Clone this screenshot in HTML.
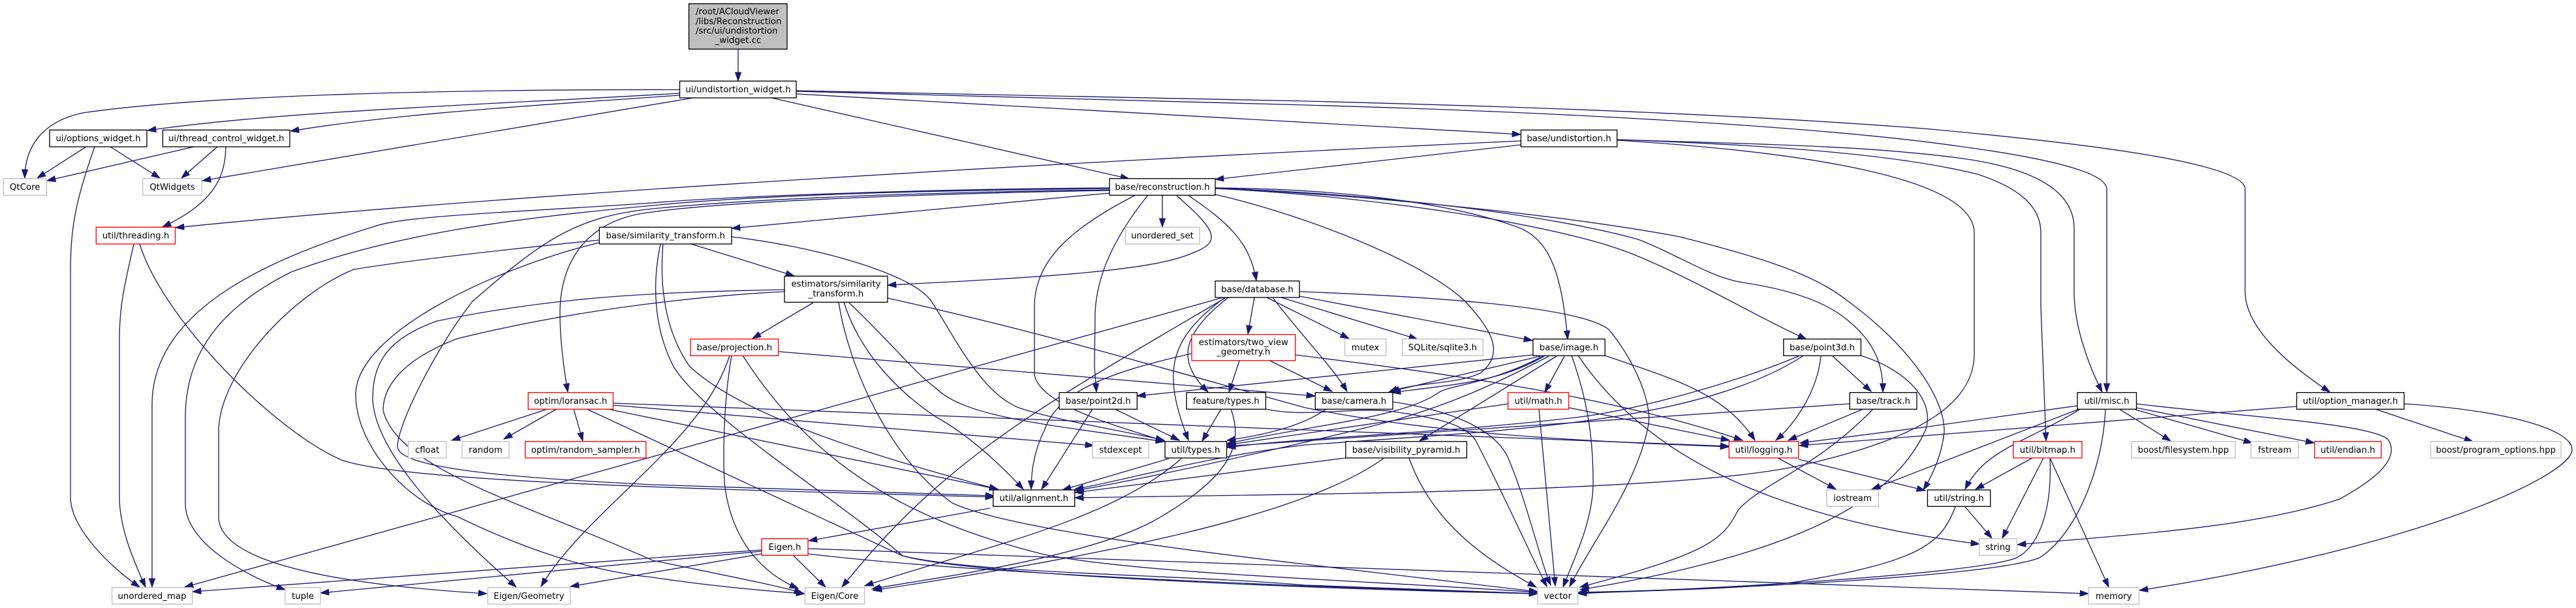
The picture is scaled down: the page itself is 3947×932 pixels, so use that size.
<!DOCTYPE html>
<html><head><meta charset="utf-8"><title>Include graph</title>
<style>
html,body{margin:0;padding:0;background:#fff;width:3947px;height:932px;overflow:hidden}
svg{display:block}
path{fill:none;stroke:#191970;stroke-width:1.33;marker-end:url(#a)}
marker path{fill:#191970;stroke:#191970;stroke-width:1;marker-end:none}
rect{fill:#fff;stroke:#000;stroke-width:1.33}
rect.g{stroke:#bfbfbf}
rect.r{stroke:#f00}
rect.c{fill:#bfbfbf}
text{font-family:"DejaVu Sans","Liberation Sans",sans-serif;font-size:13.33px;fill:#000;text-anchor:middle}
text.l{text-anchor:start}
</style></head><body>
<svg xmlns="http://www.w3.org/2000/svg" width="3947" height="932" viewBox="0 0 3947 932">
<defs><marker id="a" markerUnits="userSpaceOnUse" markerWidth="15" markerHeight="11" refX="13.3" refY="5" orient="auto"><path d="M0,0.4 L13.3,5 L0,9.6 Z"/></marker></defs>
<g>
<path d="M1131,75 L1131,124"/>
<path d="M1041,137.5 C700,137 320,145 127,173 C70,185 38,220 38,273"/>
<path d="M1041,143 C760,160 430,170 226,200"/>
<path d="M1041,146 C850,160 620,172 445,201"/>
<path d="M1062,150 L310,277"/>
<path d="M1182,150 L1730,274"/>
<path d="M1220,144 L2330,206"/>
<path d="M1220,140 L2000,161 C2400,172 2800,195 3000,224 C3120,240 3228,262 3228,290 L3228,601"/>
<path d="M1220,139 L2000,155 C2400,165 2700,178 2947,197 C3200,220 3440,250 3440,290 L3440,447 C3440,500 3500,555 3570,601"/>
<path d="M2330,216 C1700,245 800,295 269,349"/>
<path d="M2330,222 L1862,275"/>
<path d="M2478,214 C2650,220 2850,222 3000,242 C3100,255 3178,285 3178,350 L3178,447 C3178,500 3200,560 3221,601"/>
<path d="M2478,214 C2700,222 2900,235 3030,267 C3100,290 3127,320 3127,357 L3127,470 L3135,676"/>
<path d="M2478,215 C2750,232 3025,270 3025,357 L3025,542 C3025,610 2960,670 2752,715 C2560,755 2000,757 1647,763"/>
<path d="M132,225 L57,273"/>
<path d="M169,225 L245,273"/>
<path d="M145,225 C115,310 108,350 108,420 L108,762 C108,810 170,870 214,900"/>
<path d="M297,225 L72,277"/>
<path d="M333,225 L278,273"/>
<path d="M346,225 C345,270 330,310 249,348"/>
<path d="M205,374 C190,440 183,470 183,520 L183,762 C183,810 205,860 223,900"/>
<path d="M214,374 C250,490 420,660 523,705 C620,740 1100,750 1523,762"/>
<path d="M1700,288 C1400,290 1100,302 1000,311 C800,325 620,330 574,347 C400,400 233,480 233,620 L233,900"/>
<path d="M1700,289 C1400,292 1150,300 1000,315 C780,335 600,360 446,417 C340,470 284,540 284,640 L284,772 C284,830 370,880 437,904"/>
<path d="M1700,291 C1400,295 1150,305 1000,320 C880,332 830,370 724,462 C670,530 609,650 609,685 C612,720 800,733 1000,743 L1523,760"/>
<path d="M1700,292 C1400,297 1100,310 1000,325 C900,335 858,400 858,480 C858,520 863,560 870,601"/>
<path d="M1700,296 L1121,350"/>
<path d="M1862,288 C2100,290 2250,320 2330,350 C2375,370 2393,420 2402,520"/>
<path d="M1862,289 C2100,300 2400,345 2510,393 C2600,430 2700,490 2768,520"/>
<path d="M1862,289 C2100,295 2380,330 2510,367 C2570,390 2620,425 2670,433 C2750,445 2800,465 2830,490 C2880,530 2885,570 2885,601"/>
<path d="M1862,288 C2100,300 2400,330 2574,363 C2700,395 2780,420 2832,462 C2925,530 2980,610 2979,662 C2975,700 2960,730 2947,751"/>
<path d="M1862,298 C2000,330 2180,400 2245,462 C2280,500 2310,540 2268,572 C2230,590 2170,585 2128,601"/>
<path d="M1740,299 C1640,350 1585,400 1585,470 L1585,575 C1595,620 1700,650 1784,676"/>
<path d="M1759,299 C1710,360 1680,420 1678,480 L1677,562 L1680,601"/>
<path d="M1781,299 L1781,348"/>
<path d="M1802,299 C1860,350 1875,370 1829,387 C1770,415 1600,425 1360,437"/>
<path d="M1820,299 C1880,340 1915,370 1925,430"/>
<path d="M1246,464 L1153,519"/>
<path d="M1285,463 C1300,560 1360,700 1459,771 C1520,800 1700,830 2000,865 L2356,907"/>
<path d="M1293,463 C1320,550 1390,610 1434,639 C1490,670 1540,720 1568,750"/>
<path d="M1301,464 C1370,530 1400,570 1434,595 C1480,640 1600,650 1784,677"/>
<path d="M1360,457 C1600,510 1800,570 2000,625 C2200,665 2400,675 2649,685"/>
<path d="M1202,444 C1000,448 850,455 670,492 C590,520 571,560 571,612 C575,700 700,820 791,900"/>
<path d="M1202,447 C1100,452 900,470 701,519 C620,550 587,590 587,629 C610,720 800,770 1000,859 C1100,880 1180,895 1230,909"/>
<path d="M918,368 C750,385 620,400 542,413 C450,450 335,570 335,662 L335,795 C340,860 500,895 746,910"/>
<path d="M918,372 C760,410 545,510 545,605 C545,680 620,770 701,792 C800,840 900,875 1000,885 C1080,897 1160,905 1233,910"/>
<path d="M1121,363 C1250,378 1400,420 1427,462 C1460,510 1500,600 1561,625 C1620,645 1720,660 1784,675"/>
<path d="M1059,374 L1217,423"/>
<path d="M1016,374 C1010,440 1020,510 1057,562 C1130,630 1300,690 1529,750"/>
<path d="M1012,374 C1000,430 1000,500 1032,562 C1080,640 1290,770 1383,852 C1500,880 1800,880 2000,897 L2356,910"/>
<path d="M1193,539 L2015,607"/>
<path d="M1121,545 C1108,620 1108,700 1110,740 C1120,830 1170,880 1223,902"/>
<path d="M1118,545 C1075,680 900,780 829,899"/>
<path d="M1138,545 C1250,720 1400,800 1600,850 C1750,880 2100,890 2356,908"/>
<path d="M939,618 L2000,659 L2649,684"/>
<path d="M939,621 L1676,683"/>
<path d="M931,627 L1529,750"/>
<path d="M899,627 L1383,852 C1500,885 2100,905 2356,910"/>
<path d="M839,627 L692,675"/>
<path d="M853,627 L772,673"/>
<path d="M879,627 L893,676"/>
<path d="M1791,703 L1628,751"/>
<path d="M1810,703 C1700,800 1500,840 1325,898"/>
<path d="M1708,627 L1807,675"/>
<path d="M1674,627 L1596,750"/>
<path d="M1871,627 L1842,676"/>
<path d="M1886,627 C1905,680 1890,730 1765,800 C1650,860 1400,890 1336,903"/>
<path d="M1939,627 C2000,640 2060,625 2128,630 C2200,640 2245,650 2261,675 C2300,750 2350,860 2370,899"/>
<path d="M1985,544 C2150,565 2450,600 2670,675"/>
<path d="M1826,542 C1700,570 1620,600 1600,660 C1585,690 1580,720 1580,750"/>
<path d="M1899,553 L1883,601"/>
<path d="M1946,553 L2041,600"/>
<path d="M1874,456 L283,900"/>
<path d="M1877,457 C1600,620 1450,700 1290,900"/>
<path d="M1877,456 C1790,520 1780,570 1821,675"/>
<path d="M1882,456 C1800,520 1810,560 1851,601"/>
<path d="M1922,456 L1912,512"/>
<path d="M1941,456 L2067,519"/>
<path d="M1963,456 L2172,520"/>
<path d="M1991,454 L2348,522"/>
<path d="M1950,456 C1990,510 2040,560 2064,600"/>
<path d="M1991,447 C2200,455 2420,470 2465,505 C2510,560 2530,620 2526,650 C2510,740 2440,830 2405,899"/>
<path d="M2349,544 L1742,607"/>
<path d="M2360,546 L2131,600"/>
<path d="M2366,546 C2290,590 2210,590 2133,602"/>
<path d="M2364,546 C2280,590 2220,590 2204,602 C2150,640 2020,650 1880,680"/>
<path d="M2373,546 C2290,590 2220,620 2134,645 C2000,680 1750,735 1647,752"/>
<path d="M2385,546 L2175,676"/>
<path d="M2397,546 L2367,601"/>
<path d="M2408,545 C2435,620 2441,680 2441,740 C2441,800 2410,860 2395,900"/>
<path d="M2418,545 C2510,680 2680,790 3033,834"/>
<path d="M2459,545 C2560,580 2640,600 2689,675"/>
<path d="M2134,616 C2230,630 2290,660 2310,700 C2340,770 2360,860 2376,897"/>
<path d="M2032,627 C2000,650 1950,665 1880,675"/>
<path d="M2311,619 L1880,682"/>
<path d="M2404,625 L2650,675"/>
<path d="M2358,627 L2383,898"/>
<path d="M2756,546 C2650,590 2500,630 2414,640 C2200,665 2000,670 1880,686"/>
<path d="M2762,546 C2600,650 2300,660 2000,682 C1850,700 1750,730 1647,750"/>
<path d="M2790,545 C2785,600 2750,650 2721,675"/>
<path d="M2807,545 L2867,600"/>
<path d="M2851,545 C2930,570 2965,620 2950,660 C2900,770 2750,850 2421,904"/>
<path d="M2834,619 L1880,684"/>
<path d="M2855,627 L2740,675"/>
<path d="M2870,627 C2780,720 2700,740 2663,782 C2640,830 2610,850 2421,900"/>
<path d="M2724,702 L2813,750"/>
<path d="M2756,704 L2950,752"/>
<path d="M2062,702 L1647,755"/>
<path d="M2121,702 C2000,790 1700,850 1338,905"/>
<path d="M2159,702 C2190,790 2260,850 2354,900"/>
<path d="M1517,779 L1239,829"/>
<path d="M1238,841 L2000,868 L3000,903 L3200,910"/>
<path d="M1238,849 C1500,880 2000,900 2356,910"/>
<path d="M1215,851 L1265,900"/>
<path d="M1167,843 L295,907"/>
<path d="M1167,845 L491,909"/>
<path d="M1167,849 L874,899"/>
<path d="M3011,777 L3052,825"/>
<path d="M2996,777 C2975,830 2950,860 2752,892 C2650,905 2500,905 2418,910"/>
<path d="M3114,702 L3027,750"/>
<path d="M3131,702 L3068,825"/>
<path d="M3141,702 C3145,790 3120,840 3090,855 C3030,880 2600,905 2418,909"/>
<path d="M3141,702 L3231,900"/>
<path d="M3183,622 L2947,655 L2758,679"/>
<path d="M3183,628 L2868,750"/>
<path d="M3186,628 C3100,680 3040,690 3011,750"/>
<path d="M3226,627 C3222,720 3180,820 3125,855 C3050,885 2600,905 2418,908"/>
<path d="M3247,627 L3326,676"/>
<path d="M3272,628 L3451,679"/>
<path d="M3273,625 L3546,679"/>
<path d="M3273,619 C3450,640 3640,650 3660,675 C3680,710 3620,745 3585,765 C3450,810 3250,820 3091,835"/>
<path d="M3519,623 L2757,683"/>
<path d="M3639,627 L3789,677"/>
<path d="M3684,619 C3850,630 3941,660 3941,689 C3941,730 3700,840 3278,905"/>
</g>
<g>
<rect class="c" x="1055.5" y="5.7" width="150.5" height="69.6"/>
<text class="l" x="1066" y="22">/root/ACloudViewer</text>
<text class="l" x="1066" y="37">/libs/Reconstruction</text>
<text class="l" x="1066" y="51.5">/src/ui/undistortion</text>
<text x="1131" y="66">_widget.cc</text>
<rect x="1041.5" y="124.3" width="178.5" height="25.7"/><text x="1131" y="141.5">ui/undistortion_widget.h</text>
<rect x="76" y="199.3" width="149" height="25.7"/><text x="150.5" y="216.5">ui/options_widget.h</text>
<rect x="249.4" y="199.3" width="194.6" height="25.7"/><text x="346.7" y="216.5">ui/thread_control_widget.h</text>
<rect x="2330.4" y="199.3" width="147.3" height="25.7"/><text x="2404" y="216.5">base/undistortion.h</text>
<rect class="g" x="5" y="273.7" width="66.4" height="25.6"/><text x="38.2" y="290.8">QtCore</text>
<rect class="g" x="218.8" y="273.7" width="90.5" height="25.6"/><text x="264" y="290.8">QtWidgets</text>
<rect x="1700" y="273.7" width="162" height="25.6"/><text x="1781" y="290.8">base/reconstruction.h</text>
<rect class="r" x="147.3" y="348.3" width="121.2" height="25.7"/><text x="208" y="365.5">util/threading.h</text>
<rect x="918.4" y="348.3" width="202.6" height="25.7"/><text x="1019.7" y="365.5">base/similarity_transform.h</text>
<rect class="g" x="1724.5" y="348.3" width="113.5" height="25.7"/><text x="1781" y="365.5">unordered_set</text>
<rect x="1202" y="423.3" width="158" height="40"/>
<text x="1281" y="439.5">estimators/similarity</text><text x="1281" y="454.5">_transform.h</text>
<rect x="1862" y="430.7" width="129" height="25.3"/><text x="1926.5" y="447.8">base/database.h</text>
<rect class="r" x="1058" y="519.7" width="134.6" height="25.6"/><text x="1125.3" y="536.8">base/projection.h</text>
<rect class="r" x="1826" y="512.7" width="158.7" height="40"/>
<text x="1905.3" y="529">estimators/two_view</text><text x="1905.3" y="543.5">_geometry.h</text>
<rect class="g" x="2060.6" y="519.7" width="63.1" height="25.6"/><text x="2092" y="536.8">mutex</text>
<rect class="g" x="2148.6" y="519.7" width="123.7" height="25.6"/><text x="2210.4" y="536.8">SQLite/sqlite3.h</text>
<rect x="2348.9" y="519.7" width="110.3" height="25.6"/><text x="2404" y="536.8">base/image.h</text>
<rect x="2732.8" y="519.7" width="118.6" height="25.6"/><text x="2792" y="536.8">base/point3d.h</text>
<rect class="r" x="809.3" y="601.7" width="130.1" height="25.6"/><text x="874.3" y="618.8">optim/loransac.h</text>
<rect x="1623" y="601.7" width="119.3" height="25.6"/><text x="1682.7" y="618.8">base/point2d.h</text>
<rect x="1818" y="601.7" width="121.4" height="25.6"/><text x="1878.7" y="618.8">feature/types.h</text>
<rect x="2015.3" y="601.7" width="118.7" height="25.6"/><text x="2074.6" y="618.8">base/camera.h</text>
<rect class="r" x="2310.6" y="601.7" width="93.1" height="25.6"/><text x="2357" y="618.8">util/math.h</text>
<rect x="2834.2" y="601.7" width="102.7" height="25.6"/><text x="2885.5" y="618.8">base/track.h</text>
<rect x="3183" y="601.7" width="90.5" height="25.6"/><text x="3228" y="618.8">util/misc.h</text>
<rect x="3519" y="601.7" width="164.6" height="25.6"/><text x="3601.3" y="618.8">util/option_manager.h</text>
<rect class="g" x="625.6" y="676.7" width="58.1" height="25.3"/><text x="654.6" y="693.8">cfloat</text>
<rect class="g" x="708" y="676.7" width="72" height="25.3"/><text x="744" y="693.8">random</text>
<rect class="r" x="804.8" y="676.7" width="185" height="25.3"/><text x="897.3" y="693.8">optim/random_sampler.h</text>
<rect class="g" x="1674" y="676.7" width="86" height="25.3"/><text x="1717" y="693.8">stdexcept</text>
<rect x="1785" y="676.7" width="94.5" height="25.3"/><text x="1832" y="693.8">util/types.h</text>
<rect x="2061.9" y="676.7" width="185.5" height="25.3"/><text x="2154.6" y="693.8">base/visibility_pyramid.h</text>
<rect class="r" x="2649.2" y="676.7" width="106.5" height="25.3"/><text x="2702.5" y="693.8">util/logging.h</text>
<rect class="r" x="3084.8" y="676.7" width="105.2" height="25.3"/><text x="3137.4" y="693.8">util/bitmap.h</text>
<rect class="g" x="3265.9" y="676.7" width="158.8" height="25.3"/><text x="3345.3" y="693.8">boost/filesystem.hpp</text>
<rect class="g" x="3449" y="676.7" width="72.6" height="25.3"/><text x="3485.3" y="693.8">fstream</text>
<rect class="r" x="3546.5" y="676.7" width="102" height="25.3"/><text x="3597.5" y="693.8">util/endian.h</text>
<rect class="g" x="3724.4" y="676.7" width="199.6" height="25.3"/><text x="3824.2" y="693.8">boost/program_options.hpp</text>
<rect x="1521.7" y="751" width="125" height="25.3"/><text x="1584.2" y="768">util/alignment.h</text>
<rect class="g" x="2799" y="751" width="79.2" height="25.3"/><text x="2838.6" y="768">iostream</text>
<rect x="2953.4" y="751" width="96.3" height="25.3"/><text x="3001.5" y="768">util/string.h</text>
<rect class="r" x="1167" y="825.7" width="71" height="25.6"/><text x="1202.5" y="842.8">Eigen.h</text>
<rect class="g" x="3032.5" y="825.7" width="58" height="25.6"/><text x="3061.5" y="842.8">string</text>
<rect class="g" x="171.6" y="900.7" width="123" height="25.3"/><text x="233" y="917.8">unordered_map</text>
<rect class="g" x="436.9" y="900.7" width="54.1" height="25.3"/><text x="464" y="917.8">tuple</text>
<rect class="g" x="747.4" y="900.7" width="126.3" height="25.3"/><text x="810.5" y="917.8">Eigen/Geometry</text>
<rect class="g" x="1233.4" y="900.7" width="91.2" height="25.3"/><text x="1279" y="917.8">Eigen/Core</text>
<rect class="g" x="2355.9" y="900.7" width="61.8" height="25.3"/><text x="2386.8" y="917.8">vector</text>
<rect class="g" x="3200" y="900.7" width="77.4" height="25.3"/><text x="3238.7" y="917.8">memory</text>
</g>
</svg>
</body></html>
